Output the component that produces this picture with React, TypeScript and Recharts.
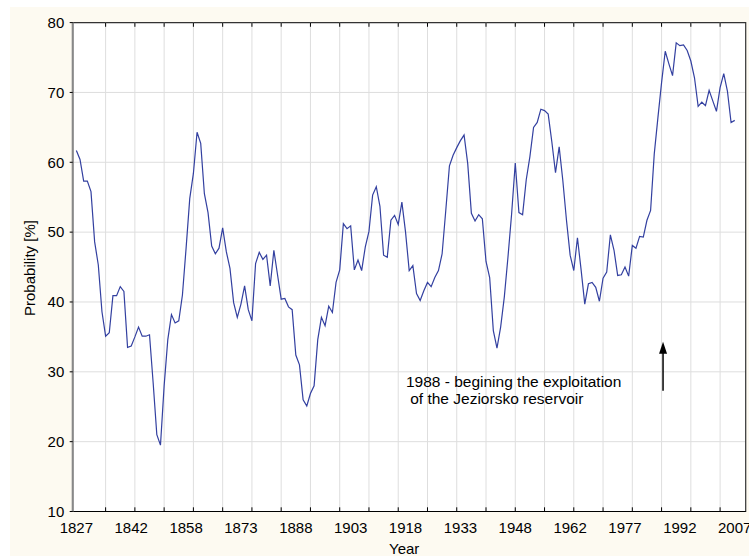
import { CartesianGrid, Line, LineChart, ReferenceArea, ReferenceDot, ReferenceLine, XAxis, YAxis } from "recharts";

const firstYear = 1827;

// yearly probability [%]
const prob1827 = [61.7, 60.4, 57.3, 57.3, 55.8, 48.6, 45.3, 38.6, 35.1, 35.6, 40.9, 40.9, 42.2, 41.5, 33.5, 33.7, 35.0, 36.4, 35.1, 35.1];
const prob1847 = [35.3, 28.4, 21.0, 19.5, 28.0, 34.6, 38.2, 37.0, 37.3, 41.0, 47.7, 54.8, 58.4, 64.3, 62.7, 55.5, 52.8, 48.0, 46.9, 47.7];
const prob1867 = [50.6, 47.2, 44.8, 39.9, 37.8, 39.7, 42.3, 38.9, 37.3, 45.5, 47.1, 46.1, 46.7, 42.3, 47.4, 43.9, 40.4, 40.5, 39.3, 38.9];
const prob1887 = [32.4, 31.0, 26.0, 25.1, 26.9, 28.0, 34.6, 37.8, 36.6, 39.4, 38.5, 42.8, 44.6, 51.2, 50.5, 50.9, 44.6, 46.0, 44.5, 47.9];
const prob1907 = [50.1, 55.3, 56.5, 53.7, 46.7, 46.4, 51.7, 52.4, 51.1, 54.3, 50.0, 44.5, 45.2, 41.2, 40.2, 41.6, 42.8, 42.2, 43.5, 44.5];
const prob1927 = [46.9, 53.1, 59.5, 61.0, 62.1, 63.1, 63.9, 59.8, 52.7, 51.6, 52.5, 51.9, 45.8, 43.5, 35.9, 33.4, 36.4, 40.7, 46.4, 52.6];
const prob1947 = [59.9, 52.8, 52.5, 57.5, 60.8, 65.0, 65.7, 67.6, 67.4, 66.9, 62.9, 58.5, 62.2, 57.4, 51.7, 46.7, 44.5, 49.2, 44.6, 39.7];
const prob1967 = [42.6, 42.8, 42.1, 40.1, 43.4, 44.3, 49.6, 47.4, 43.8, 43.9, 45.0, 43.7, 48.1, 47.7, 49.4, 49.3, 51.7, 53.1, 61.2, 66.4];
const prob1987 = [71.4, 75.9, 74.1, 72.4, 77.1, 76.7, 76.8, 76.0, 74.5, 72.1, 68.0, 68.6, 68.1, 70.3, 68.8, 67.3, 70.7, 72.7, 70.2, 65.7, 66.0];

const yearLabels = ["1827", "1842", "1858", "1873", "1888", "1903", "1918", "1933", "1948", "1962", "1977", "1992", "2007"];
const labelStep = 15;
const gridStep = 8;
const yTicks = [10, 20, 30, 40, 50, 60, 70, 80];

const noteLines = ["1988 - begining the exploitation", " of the Jeziorsko reservoir"];
const noteAt = { x: 1917.1, y: 27.8 };
const arrow = { x: 1987.4, from: 27.3, to: 34.3 };

const probability = [...prob1827, ...prob1847, ...prob1867, ...prob1887, ...prob1907, ...prob1927, ...prob1947, ...prob1967, ...prob1987];
const data = probability.map((p, i) => ({ year: firstYear + i, p }));
const labelTicks = yearLabels.map((_, i) => firstYear + i * labelStep);
const gridYears: number[] = [];
for (let y = firstYear + gridStep; y < 2010; y += gridStep) gridYears.push(y);

const FONT = "'Liberation Sans', Arial, sans-serif";

const ArrowShape = (props: any) => {
  const { x1, y1, x2, y2 } = props;
  return (
    <g>
      <line x1={x1} y1={y1} x2={x2} y2={y2 + 6} stroke="#000" strokeWidth={1.5} />
      <polygon points={`${x2},${y2} ${x2 - 4},${y2 + 12} ${x2 + 4},${y2 + 12}`} fill="#000" />
    </g>
  );
};

export default function App() {
  return (
    <div style={{ position: "relative", width: 749, height: 558, background: "#fff", fontFamily: FONT }}>
      <style>{`body{margin:0}`}</style>
      <div style={{ position: "absolute", left: 10, top: 7, width: 739, height: 549, background: "#fdfaf1" }} />
      <div style={{ position: "absolute", left: 0, top: 0 }}>
        <LineChart width={749} height={558} data={data} margin={{ top: 22.6, right: 3.3, bottom: 0, left: 0 }}>
          <CartesianGrid vertical={false} stroke="#dedede" fill="#fff" fillOpacity={1} />
          {gridYears.map((g) => (
            <ReferenceLine key={g} x={g} stroke="#dedede" />
          ))}
          {gridYears.map((g) => (
            <ReferenceLine key={"b" + g} segment={[{ x: g, y: 10 }, { x: g, y: 10.6 }]} stroke="#000" />
          ))}
          {gridYears.map((g) => (
            <ReferenceLine key={"t" + g} segment={[{ x: g, y: 80 }, { x: g, y: 79.4 }]} stroke="#000" />
          ))}
          <XAxis
            dataKey="year"
            type="number"
            domain={[1826, 2010]}
            ticks={labelTicks}
            tickFormatter={(v: number) => yearLabels[Math.round((v - firstYear) / labelStep)]}
            interval={0}
            tickLine={false}
            axisLine={{ stroke: "#000" }}
            height={46.5}
            tickMargin={5}
            tick={{ fontSize: 15, fill: "#000", fontFamily: FONT }}
            label={(p: any) => {
              const vb = p.viewBox;
              return (
                <text x={vb.x + vb.width / 2 - 5} y={vb.y + vb.height - 4} textAnchor="middle" fontSize={15} fill="#000" fontFamily={FONT}>
                  Year
                </text>
              );
            }}
          />
          <YAxis
            type="number"
            domain={[10, 80]}
            ticks={yTicks}
            interval={0}
            width={72.7}
            tickSize={3}
            tickMargin={5.4}
            tickLine={{ stroke: "#000" }}
            axisLine={{ stroke: "#888", strokeWidth: 2 }}
            tick={{ fontSize: 15, fill: "#000", fontFamily: FONT }}
            label={(p: any) => {
              const vb = p.viewBox;
              const cx = vb.x + 29.5;
              const cy = vb.y + vb.height / 2 + 1;
              return (
                <text x={cx} y={cy} transform={`rotate(-90 ${cx} ${cy})`} textAnchor="middle" dominantBaseline="central" fontSize={15} fill="#000" fontFamily={FONT}>
                  Probability [%]
                </text>
              );
            }}
          />
          <ReferenceArea x1={1826} x2={2010} y1={10} y2={80} fill="none" stroke="#333" strokeWidth={1.2} />
          <Line type="linear" dataKey="p" stroke="#3340a0" strokeWidth={1.2} dot={false} isAnimationActive={false} />
          <ReferenceLine segment={[{ x: arrow.x, y: arrow.from }, { x: arrow.x, y: arrow.to }]} shape={ArrowShape} />
          <ReferenceDot
            x={noteAt.x}
            y={noteAt.y}
            r={0}
            fill="none"
            stroke="none"
            label={(p: any) => (
              <text x={p.viewBox.x} y={p.viewBox.y} fontSize={15.5} fill="#000" fontFamily={FONT}>
                <tspan x={p.viewBox.x} xmlSpace="preserve">{noteLines[0]}</tspan>
                <tspan x={p.viewBox.x} dy={17} xmlSpace="preserve">{noteLines[1]}</tspan>
              </text>
            )}
          />
        </LineChart>
      </div>
    </div>
  );
}
